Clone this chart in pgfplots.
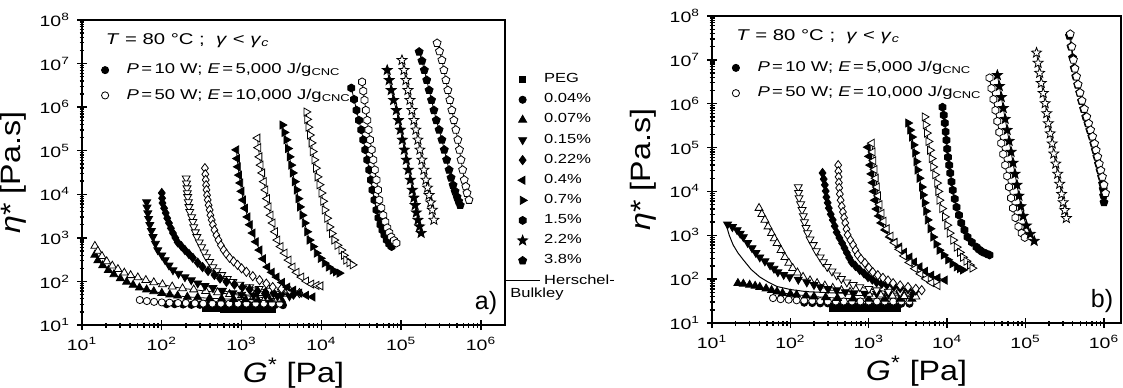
\documentclass[border=0pt]{standalone}
\usepackage{fontspec}
\setmainfont{Liberation Sans}
\newfontfamily\tickfont{Liberation Sans}[FakeStretch=1.3]
\newfontfamily\wideA{Liberation Sans}[FakeStretch=1.3]
\newfontfamily\wideB{Liberation Sans}[FakeStretch=1.25]
\newfontfamily\wideC{Liberation Sans}[FakeStretch=1.15]
\usepackage{pgfplots}
\pgfplotsset{compat=1.18}
\pgfdeclareplotmark{hexagon*}{%
  \pgfpathmoveto{\pgfpointpolar{90}{\pgfplotmarksize}}%
  \pgfpathlineto{\pgfpointpolar{150}{\pgfplotmarksize}}%
  \pgfpathlineto{\pgfpointpolar{210}{\pgfplotmarksize}}%
  \pgfpathlineto{\pgfpointpolar{270}{\pgfplotmarksize}}%
  \pgfpathlineto{\pgfpointpolar{330}{\pgfplotmarksize}}%
  \pgfpathlineto{\pgfpointpolar{30}{\pgfplotmarksize}}%
  \pgfpathclose
  \pgfusepathqfillstroke}
\pgfdeclareplotmark{fstar*}{%
  \pgfpathmoveto{\pgfpointpolar{90}{\pgfplotmarksize}}%
  \pgfpathlineto{\pgfpointpolar{126}{0.42*\pgfplotmarksize}}%
  \pgfpathlineto{\pgfpointpolar{162}{\pgfplotmarksize}}%
  \pgfpathlineto{\pgfpointpolar{198}{0.42*\pgfplotmarksize}}%
  \pgfpathlineto{\pgfpointpolar{234}{\pgfplotmarksize}}%
  \pgfpathlineto{\pgfpointpolar{270}{0.42*\pgfplotmarksize}}%
  \pgfpathlineto{\pgfpointpolar{306}{\pgfplotmarksize}}%
  \pgfpathlineto{\pgfpointpolar{342}{0.42*\pgfplotmarksize}}%
  \pgfpathlineto{\pgfpointpolar{18}{\pgfplotmarksize}}%
  \pgfpathlineto{\pgfpointpolar{54}{0.42*\pgfplotmarksize}}%
  \pgfpathclose
  \pgfusepathqfillstroke}
\pgfplotsset{
  FF/.style={black, line width=0.4pt, forget plot, mark options={solid, fill=black, line width=0.4pt, rotate=#1}}, FF/.default=0,
  OO/.style={black, line width=0.4pt, forget plot, mark options={solid, fill=white, line width=0.4pt, rotate=#1}}, OO/.default=0,
  msq/.style={mark=square*, mark size=1.6pt},
  mci/.style={mark=*, mark size=1.8pt},
  mtr/.style={mark=triangle*, mark size=2.3pt},
  mdi/.style={mark=diamond*, mark size=2.3pt},
  mhx/.style={mark=hexagon*, mark size=2pt},
  mst/.style={mark=fstar*, mark size=2.6pt},
  mpe/.style={mark=pentagon*, mark size=2.1pt},
}
\newcommand{\Tnode}{\textit{T} = 80 °C ;\ \ \textit{γ} < \textit{γ}\textsubscript{\textit{c}}}
\newcommand{\Pa}{\textit{P}\,=\,10 W; \textit{E}\,=\,5,000 J/g\textsubscript{CNC}}
\newcommand{\Pb}{\textit{P}\,=\,50 W; \textit{E}\,=\,10,000 J/g\textsubscript{CNC}}
\begin{document}
\begin{tikzpicture}
\useasboundingbox (-41pt,-31pt) rectangle (520.5pt,162.5pt);
% ---------------- panel a ----------------
\begin{axis}[at={(0,0)}, anchor=south west, scale only axis, width=211.5pt, height=152.5pt,
    xmode=log, ymode=log, ymin=10, ymax=1e8, xmin=10, xmax=2e6,
    tick pos=left, tick align=center, major tick length=5pt, minor tick length=2.5pt,
    axis line style={line width=0.9pt}, tick style={line width=0.7pt, black},
    xticklabel={\pgfmathtruncatemacro\ex{round(\tick/2.302585093)}10\textsuperscript{\ex}},
    yticklabel={\pgfmathtruncatemacro\ex{round(\tick/2.302585093)}10\textsuperscript{\ex}},
    tick label style={font=\fontsize{7.5}{9}\tickfont},
    label style={font=\fontsize{14}{16}\wideC},
    xlabel style={yshift=3pt},
    xlabel={\textit{G}\textsuperscript{*} [Pa]},
    ylabel={\textit{η}* [Pa.s]},
    legend cell align=left,
    legend style={draw=none, fill=none, font=\fontsize{7.1}{9.5}\wideA, row sep=2pt, column sep=7pt, at={(0.031,0.885)}, anchor=north west}]
\addlegendimage{only marks, black, mark=*, mark size=1.8pt}
\addlegendentry{\Pa}
\addlegendimage{only marks, black, mark=*, mark size=1.8pt, mark options={fill=white}}
\addlegendentry{\Pb}
% PEG
\addplot[FF, msq] coordinates {(350,24) (420,24) (500,24) (600,23.5) (720,23.5) (860,23.5) (1030,23.5) (1240,23.5) (1480,23.5) (1780,23.5) (2130,23.5) (2400,23.5)};
% 0.04
\addplot[FF, mci] coordinates {(115,30) (145,30) (185,29.5) (235,29) (300,29) (380,29) (480,28.5) (610,28.5) (780,28.5) (1000,28.5) (1270,28.5) (1600,28.5) (2050,28.5) (2600,28.5) (3300,28.5)};
\addplot[OO, mci] coordinates {(53,37.5) (65,35.5) (80,34) (100,33) (125,32.5) (160,32) (200,32) (260,31.5) (330,31) (430,31) (550,31) (700,31) (900,31) (1150,31) (1500,31) (1900,31) (2400,31) (3000,31)};
% 0.07
\addplot[FF, mtr] coordinates {(14.5,407) (15.8,302) (18.2,234) (21.4,182) (25.1,145) (30.2,117) (36.3,98) (43.7,83) (52.5,72) (64.6,65) (79.4,59) (100,54) (126,50) (158,47) (209,44) (282,43) (398,41) (562,40) (794,39) (1122,38.5) (1585,38) (2239,38) (3162,38)};
\addplot[OO, mtr] coordinates {(14.5,650) (15.8,500) (17.8,380) (20.4,288) (24,229) (28.2,191) (33.9,158) (40.7,138) (50.1,123) (63.1,107) (79.4,95) (102,85) (135,76) (182,69) (251,65) (355,60) (501,56) (708,51) (1000,48) (1413,45) (1995,42) (2818,40)};
% 0.15
\addplot[FF=180, mtr] coordinates {(64.6,6600) (65.3,5000) (66.8,3700) (68.4,2750) (70.8,2000) (74.1,1450) (77.6,1050) (83.2,740) (89.1,525) (100,400) (110,310) (123,234) (138,182) (162,151) (195,126) (234,107) (282,91) (347,79) (437,71) (575,62) (776,54) (1000,50) (1413,48) (1995,47) (2818,46) (3981,46)};
\addplot[OO=180, mtr] coordinates {(202,23400) (204,17800) (207,13800) (209,10700) (211,8710) (215,6610) (219,5130) (224,3980) (237,3020) (245,2340) (251,1780) (263,1350) (275,1050) (295,794) (316,617) (339,468) (363,363) (398,282) (437,214) (490,174) (562,141) (661,115) (776,98) (955,85) (1259,74) (1660,68) (2239,62) (3162,58) (4467,54)};
% 0.22
\addplot[FF, mdi] coordinates {(100,10700) (101,8130) (102,6310) (107,4790) (112,3720) (117,2820) (123,2190) (130,1660) (138,1290) (148,1000) (158,794) (176,646) (195,525) (219,427) (245,347) (282,269) (324,214) (380,174) (457,141) (537,117) (646,98) (813,85) (1023,74) (1259,66) (1585,60) (1995,56) (2512,54) (3162,51) (3981,50) (4467,50)};
\addplot[OO, mdi] coordinates {(347,39800) (351,28800) (355,21400) (359,16200) (363,12600) (369,9550) (376,7410) (386,5620) (398,4370) (407,3310) (422,2570) (437,2000) (457,1510) (484,1150) (513,891) (550,676) (596,525) (646,427) (708,347) (794,288) (891,240) (1000,200) (1148,166) (1380,132) (1679,107) (2042,89) (2455,74) (3162,68) (3981,63) (5309,54)};
% 0.4
\addplot[FF=90, mtr] coordinates {(861,104700) (881,66100) (902,42700) (933,27500) (966,18200) (1000,11700) (1047,7410) (1109,4790) (1189,3020) (1274,2000) (1380,1290) (1514,813) (1679,525) (1862,331) (2113,214) (2399,162) (2754,126) (3236,95) (3758,74) (4467,63) (5309,54) (6457,48) (7762,44)};
\addplot[OO=90, mtr] coordinates {(1585,195000) (1622,117500) (1679,72400) (1738,46800) (1820,30900) (1905,19500) (1995,12600) (2089,7940) (2188,5130) (2317,3310) (2455,2190) (2630,1380) (2818,891) (3090,631) (3467,447) (3890,309) (4365,214) (4898,162) (5623,126) (6457,102) (7499,87) (8710,81) (9772,79)};
% 0.7
\addplot[FF=-90, mtr] coordinates {(3236,389000) (3428,263000) (3631,178000) (3802,112200) (3981,72400) (4169,46800) (4365,30900) (4624,19500) (4898,12600) (5129,7940) (5370,5130) (5754,3310) (6166,2190) (6607,1380) (7079,891) (7852,631) (8710,447) (9772,339) (10960,263) (12300,214) (13800,182) (15140,166) (16790,155)};
\addplot[OO=-90, mtr] coordinates {(6457,776000) (6607,525000) (6839,347000) (7161,229000) (7499,151000) (7762,95500) (8128,61700) (8511,39800) (8913,25100) (9441,16600) (10000,10700) (10470,6920) (10960,4370) (11750,2820) (12590,1780) (13490,1260) (14450,891) (15850,676) (17780,525) (19050,398) (20420,309) (22390,269) (24550,240)};
% 1.5
\addplot[FF, mhx] coordinates {(23710,2.75e6) (25700,1.51e6) (27540,851000) (29510,501000) (31620,302000) (33500,178000) (35480,105000) (37580,61700) (39810,36300) (41690,21400) (43650,12600) (46240,7410) (48980,4370) (51880,2880) (54950,2000) (58210,1510) (61660,1170) (66070,891) (70790,724) (75860,631)};
\addplot[OO, mhx] coordinates {(32360,3.8e6) (33500,2.34e6) (34670,1.45e6) (36060,851000) (37580,501000) (38900,302000) (40740,178000) (42660,105000) (44670,61700) (46770,36300) (48980,21400) (51290,12600) (53090,7410) (56230,4900) (59570,3310) (63100,2340) (66830,1700) (70790,1320) (74990,1050) (81280,871) (87100,759)};
% 2.2
\addplot[FF, mst] coordinates {(66830,7.08e6) (70790,4.17e6) (74990,2.45e6) (80350,1.45e6) (87100,851000) (92260,501000) (97720,302000) (103500,178000) (109600,105000) (116100,61700) (123000,36300) (130300,21400) (138000,12600) (144500,8320) (149600,5620) (154900,3800) (162200,2570) (169800,1820) (177800,1290)};
\addplot[OO, mst] coordinates {(102300,1.2e7) (108400,7.08e6) (114800,4.17e6) (121600,2.45e6) (128800,1.45e6) (136500,851000) (144500,501000) (153100,302000) (162200,178000) (171800,105000) (182000,61700) (192800,36300) (204200,21400) (213800,14100) (223900,9550) (234400,6460) (245500,4370) (257000,2570)};
% 3.8
\addplot[FF, mpe] coordinates {(167900,1.86e7) (182000,1.15e7) (195000,7.08e6) (208900,4.17e6) (223900,2.45e6) (239900,1.45e6) (257000,851000) (275400,501000) (298500,302000) (323600,178000) (346700,105000) (371500,61700) (398100,36300) (421700,24000) (446700,16200) (473200,11700) (501200,8710) (524800,6920) (549500,5620)};
\addplot[OO, mpe] coordinates {(281800,2.95e7) (302000,1.91e7) (323600,1.2e7) (342800,7.08e6) (363100,4.17e6) (384600,2.45e6) (407400,1.45e6) (431500,851000) (457100,501000) (484200,302000) (512900,178000) (537000,105000) (562300,61700) (588800,36300) (616600,21400) (645700,15100) (668300,10700) (707900,7410)};
\node[anchor=west, font=\fontsize{7.8}{9.5}\wideA] at (rel axis cs:0.04,0.931) {\Tnode};
\node[anchor=south east, font=\fontsize{12.5}{14}\selectfont] at (rel axis cs:0.998,0.01) {a)};
\end{axis}
% outer legend of panel a
\begin{axis}[at={(0,0)}, anchor=south west, scale only axis, width=211.5pt, height=152.5pt, hide axis, clip=false,
  xmin=0, xmax=1, ymin=0, ymax=1, legend cell align=left,
  legend style={at={(0.985,0.852)}, anchor=north west, draw=none, fill=none, font=\fontsize{6.6}{7.6}\wideB, row sep=-0.05pt}]
\addlegendimage{only marks, black, mark=square*, mark size=1.6pt}
\addlegendentry{PEG}
\addlegendimage{only marks, black, mark=*, mark size=1.8pt}
\addlegendentry{0.04\%}
\addlegendimage{only marks, black, mark=triangle*, mark size=2.3pt}
\addlegendentry{0.07\%}
\addlegendimage{only marks, black, mark=triangle*, mark size=2.3pt, mark options={rotate=180}}
\addlegendentry{0.15\%}
\addlegendimage{only marks, black, mark=diamond*, mark size=2.3pt}
\addlegendentry{0.22\%}
\addlegendimage{only marks, black, mark=triangle*, mark size=2.3pt, mark options={rotate=90}}
\addlegendentry{0.4\%}
\addlegendimage{only marks, black, mark=triangle*, mark size=2.3pt, mark options={rotate=-90}}
\addlegendentry{0.7\%}
\addlegendimage{only marks, black, mark=hexagon*, mark size=2pt}
\addlegendentry{1.5\%}
\addlegendimage{only marks, black, mark=fstar*, mark size=2.6pt}
\addlegendentry{2.2\%}
\addlegendimage{only marks, black, mark=pentagon*, mark size=2.1pt}
\addlegendentry{3.8\%}
\addlegendimage{black, line width=0.5pt}
\addlegendentry{Herschel-}
\node[anchor=west, font=\fontsize{6.6}{7.6}\wideB] at (rel axis cs:0.996,0.103) {Bulkley};
\end{axis}
% ---------------- panel b ----------------
\begin{axis}[at={(315pt,1pt)}, anchor=south west, scale only axis, width=204.5pt, height=153.5pt,
    xmode=log, ymode=log, ymin=10, ymax=1e8, xmin=10, xmax=1.65e6,
    tick pos=left, tick align=center, major tick length=5pt, minor tick length=2.5pt,
    axis line style={line width=0.9pt}, tick style={line width=0.7pt, black},
    xticklabel={\pgfmathtruncatemacro\ex{round(\tick/2.302585093)}10\textsuperscript{\ex}},
    yticklabel={\pgfmathtruncatemacro\ex{round(\tick/2.302585093)}10\textsuperscript{\ex}},
    tick label style={font=\fontsize{7.5}{9}\tickfont},
    label style={font=\fontsize{14}{16}\wideC},
    xlabel style={yshift=3pt},
    xlabel={\textit{G}\textsuperscript{*} [Pa]},
    ylabel={\textit{η}* [Pa.s]},
    legend cell align=left,
    legend style={draw=none, fill=none, font=\fontsize{7.1}{9.5}\wideA, row sep=2pt, column sep=7pt, at={(0.034,0.88)}, anchor=north west}]
\addlegendimage{only marks, black, mark=*, mark size=1.8pt}
\addlegendentry{\Pa}
\addlegendimage{only marks, black, mark=*, mark size=1.8pt, mark options={fill=white}}
\addlegendentry{\Pb}
% PEG
\addplot[FF, msq] coordinates {(350,22) (420,22) (500,22) (600,22) (720,22) (860,22) (1030,22) (1240,22) (1480,22) (1780,22) (2130,22) (2300,22)};
% 0.04
\addplot[FF, mci] coordinates {(150,29) (190,28.5) (240,28) (300,28) (380,27.5) (480,27.5) (610,27.5) (780,27.5) (1000,27.5) (1270,27.5) (1600,27.5) (2050,27.5) (2600,27.5) (3300,27.5)};
\addplot[OO, mci] coordinates {(60,37) (75,35) (95,34) (120,33) (150,32.5) (190,32) (240,31.5) (300,31) (380,31) (480,31) (610,31) (780,31) (1000,31) (1270,31) (1600,31) (2050,31) (2600,31) (3300,31)};
% 0.07
\addplot[FF, mtr] coordinates {(21.4,81) (25.1,78) (30.2,74) (35.5,70) (40.7,66) (49,61) (57.5,56) (67.6,52) (79.4,48) (100,46) (120,44) (158,42) (200,40) (282,38.5) (398,37) (631,36) (1000,35.5) (1585,35.5) (2512,35.5) (3548,35.5)};
\addplot[OO, mtr] coordinates {(39.8,4170) (43.2,3020) (47.3,2240) (51.9,1580) (57.5,1120) (62.4,851) (67.6,661) (75.9,457) (85.1,316) (95.5,234) (107,178) (123,141) (145,112) (178,93) (219,81) (275,71) (347,63) (447,56) (575,51) (759,48) (1000,46) (1413,44) (1995,42) (2818,41) (3981,40)};
% 0.15
\addplot[FF=180, mtr, only marks] coordinates {(15.8,1780) (18.2,1550) (20.9,1320) (22.9,1100) (25.1,912) (28.5,676) (32.4,513) (36.3,398) (40.7,316) (47.3,257) (55,209) (61.7,174) (69.2,145) (82.2,126) (97.7,112) (126,98) (162,85) (200,74) (240,66) (302,60) (389,56) (501,51) (631,48) (891,47) (1259,47) (1778,46) (2512,46) (3548,46)};
\addplot[black, line width=0.5pt, no marks, forget plot] coordinates {(15.1,1780) (16.6,1000) (18.6,603) (21.4,398) (25.1,275) (31.6,166) (40.7,112) (52.5,85) (67.6,68) (100,58) (158,52) (316,49) (631,47) (1585,46) (3981,46)};
\addplot[OO=180, mtr] coordinates {(126,12600) (127,9330) (129,7080) (135,5130) (141,3800) (146,2750) (151,2000) (158,1480) (166,1120) (178,813) (195,603) (214,437) (240,316) (263,245) (295,191) (339,151) (389,123) (447,102) (525,85) (631,74) (767,66) (1000,60) (1259,56) (1778,52) (2512,50) (3162,50)};
% 0.22
\addplot[FF, mdi] coordinates {(257,26300) (266,19100) (275,14100) (282,10200) (288,7410) (299,5500) (309,4170) (327,3020) (347,2240) (367,1620) (389,1170) (422,871) (457,661) (490,513) (525,398) (562,309) (603,245) (676,200) (767,162) (871,135) (977,112) (1109,98) (1259,85) (1462,79) (1698,74) (2089,68) (2512,63) (3162,59) (3981,55)};
\addplot[OO, mdi] coordinates {(407,39800) (409,28800) (412,21400) (415,15800) (419,12000) (427,8710) (437,6310) (452,4570) (468,3390) (484,2510) (501,1910) (519,1380) (537,1020) (582,776) (631,603) (676,457) (724,355) (794,288) (891,234) (1000,182) (1122,145) (1303,123) (1514,107) (1758,93) (2042,81) (2512,72) (3162,66) (3981,60) (4732,56)};
% 0.4
\addplot[FF=90, mtr] coordinates {(977,102000) (1012,63100) (1047,39800) (1084,25100) (1122,15800) (1161,10000) (1202,6310) (1259,3980) (1349,2750) (1445,1910) (1622,1320) (1862,912) (2138,692) (2455,537) (2818,407) (3311,316) (3802,245) (4467,191) (5248,151) (6310,123) (7586,107) (9333,95)};
\addplot[OO=90, mtr] coordinates {(1096,126000) (1122,79400) (1148,50100) (1189,31600) (1230,20000) (1274,12600) (1318,7940) (1380,5010) (1462,3160) (1549,2090) (1698,1410) (1905,955) (2138,676) (2455,479) (2818,339) (3311,240) (3890,174) (4571,132) (5370,102) (6310,83) (7586,71)};
% 0.7
\addplot[FF=-90, mtr] coordinates {(3162,363000) (3350,251000) (3548,174000) (3715,115000) (3890,75900) (4027,47900) (4169,30900) (4416,20000) (4732,12600) (4898,8320) (5129,5500) (5370,3550) (5623,2240) (6095,1410) (6607,912) (7244,631) (7943,457) (9016,355) (10230,275) (11610,224) (13180,191) (14450,174) (15850,162)};
\addplot[OO=-90, mtr] coordinates {(5129,501000) (5309,331000) (5495,214000) (5754,138000) (6026,87100) (6310,56200) (6607,36300) (6998,24000) (7413,15500) (7674,10000) (7943,6310) (8610,4070) (9333,2630) (10000,1700) (10720,1120) (11890,776) (13180,537) (14450,407) (15850,316) (17580,257) (19500,209) (20890,178)};
% 1.5
\addplot[FF, mhx] coordinates {(8710,832000) (9016,550000) (9333,363000) (9550,229000) (9772,148000) (10000,93300) (10230,60300) (10590,39800) (10960,26300) (11350,16600) (11750,10700) (12450,6760) (13180,4370) (14130,2880) (15140,1910) (16600,1320) (18200,912) (20650,692) (23710,537) (25700,468) (28180,417) (31620,380) (34670,355)};
\addplot[OO, mhx] coordinates {(34670,3.89e6) (36730,2.24e6) (38900,1.26e6) (41210,708000) (43650,398000) (46240,224000) (48980,126000) (51880,70800) (54950,39800) (58210,22400) (61660,12600) (65310,7080) (69180,4170) (74130,2510) (81280,1580) (89130,1120) (97720,891)};
% 2.2
\addplot[FF, mst] coordinates {(43650,4.47e6) (46240,2.51e6) (48980,1.41e6) (51880,794000) (54950,447000) (58210,251000) (61660,141000) (65310,79400) (69180,44700) (73280,25100) (77620,14100) (82220,7940) (87100,4570) (93330,2750) (102300,1660) (114800,1070) (128800,741)};
\addplot[OO, mst] coordinates {(138000,1.45e7) (144500,8.51e6) (151400,5.01e6) (158500,2.95e6) (167900,1.74e6) (177800,1.02e6) (186200,603000) (195000,355000) (206500,209000) (218800,123000) (229100,72400) (242700,42700) (257000,25100) (272300,14800) (288400,8710) (302000,5620) (316200,3720) (331100,2450)};
% 3.8
\addplot[FF, mpe] coordinates {(363100,3.55e7) (380000,2.0e7) (398100,1.12e7) (417000,6.5e6) (436500,4.17e6) (462000,2.7e6) (489800,1.78e6) (518000,1.15e6) (549500,759000) (585000,501000) (623700,355000) (660000,251000) (699800,178000) (740000,123000) (776200,87100) (812000,61700) (851100,42700) (891000,30000) (933300,21400) (960000,15000) (977200,11200) (990000,8000) (1000000,5620)};
\addplot[OO, mpe] coordinates {(371500,3.89e7) (389000,2.0e7) (407400,1.0e7) (426600,6.31e6) (446700,4.17e6) (467700,2.75e6) (495500,1.78e6) (524800,1.17e6) (562300,759000) (602600,501000) (638300,355000) (676100,251000) (716100,178000) (758600,123000) (794300,87100) (831800,61700) (871000,42700) (912000,30200) (955000,21400) (1000000,14100) (1047000,9120)};
\node[anchor=west, font=\fontsize{7.8}{9.5}\wideA] at (rel axis cs:0.042,0.932) {\Tnode};
\node[anchor=south east, font=\fontsize{12.5}{14}\selectfont] at (rel axis cs:0.998,0.01) {b)};
\end{axis}
\end{tikzpicture}
\end{document}
